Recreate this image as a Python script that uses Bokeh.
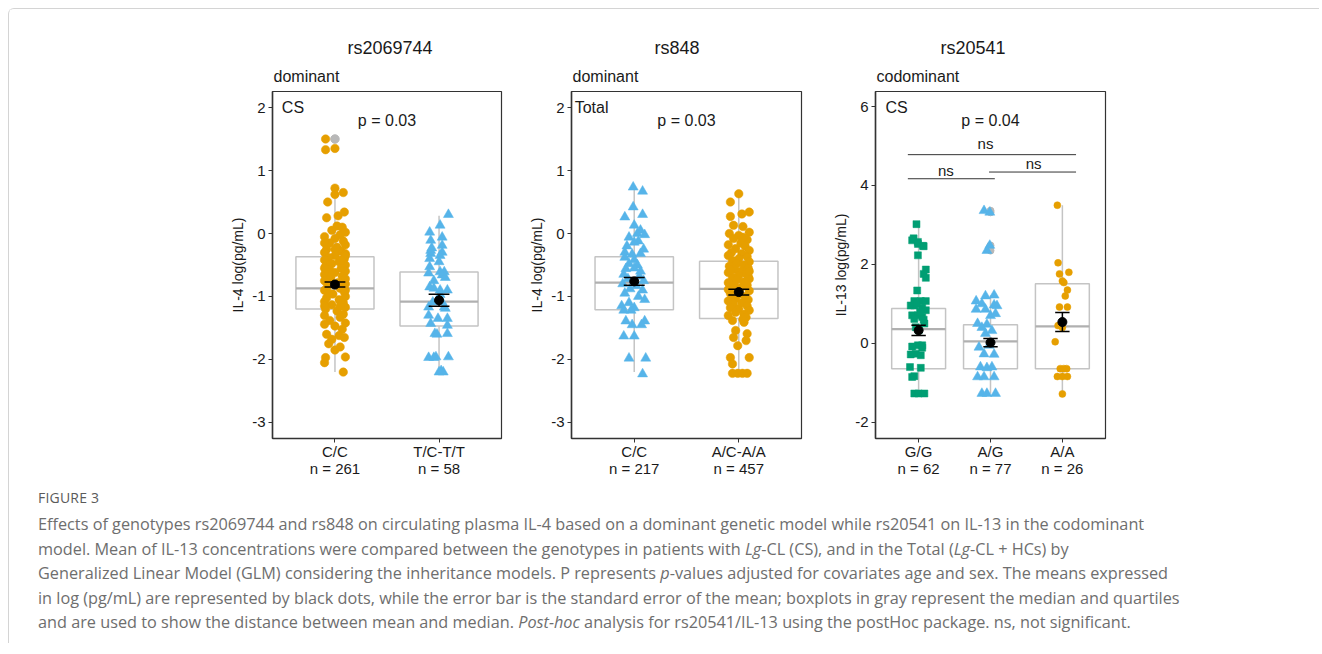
from bokeh.plotting import figure
from bokeh.models import Range1d, FixedTicker, Title, Label, Div
from bokeh.layouts import row, column
from bokeh.embed import file_html
from bokeh.resources import INLINE

ORANGE = "#E69F00"
BLUE = "#56B4E9"
GREEN = "#009E73"
BOXC = "#c4c4c4"
MEDC = "#b0b0b0"
FONT = "Liberation Sans"

# ---------------- data ----------------
# panel 1: rs2069744 (dominant, CS), IL-4
p1_cats = ["C/C\nn = 261", "T/C-T/T\nn = 58"]
p1_q1 = [-1.20, -1.47]
p1_med = [-0.87, -1.08]
p1_q3 = [-0.37, -0.61]
p1_lo = [-2.20, -2.20]
p1_hi = [0.72, 0.28]
p1_mean = [-0.81, -1.06]
p1_se = [0.04, 0.095]
p1_out_x = [1]
p1_out_y = [1.50]
p1_cc = [(-0.09,1.50),(-0.09,1.33),(0.0,1.35),(0.0,0.72),(0.0,0.62),(0.08,0.65),(-0.07,0.50),(0.09,0.34),
         (0.03,0.28),(-0.08,0.25),(0.02,0.12),(0.07,0.10),(-0.03,0.05),(0.10,0.02),(0.05,-0.02),(-0.10,-0.05),
         (0.0,-0.08),(0.08,-0.12),(-0.05,-0.15),(0.10,-0.18),(-0.10,-0.15),(0.02,-0.22),(-0.08,-0.25),(0.06,-0.28),
         (-0.10,-0.30),(0.10,-0.32),(0.0,-0.35),(-0.06,-0.38),(0.09,-0.40),(-0.10,-0.42),(0.04,-0.45),(-0.03,-0.48),
         (0.10,-0.50),(-0.09,-0.52),(0.06,-0.55),(-0.05,-0.58),(0.10,-0.60),(0.0,-0.62),(-0.10,-0.65),(0.07,-0.68),
         (-0.04,-0.70),(0.10,-0.72),(-0.10,-0.75),(0.03,-0.78),(0.10,-0.80),(-0.07,-0.83),(0.05,-0.87),(-0.10,-0.90),
         (0.09,-0.93),(-0.02,-0.96),(0.10,-1.00),(-0.08,-1.02),(0.04,-1.05),(-0.10,-1.08),(0.08,-1.10),(-0.03,-1.13),
         (0.10,-1.17),(-0.09,-1.20),(0.02,-1.23),(0.08,-1.28),(-0.10,-1.30),(0.05,-1.33),(-0.05,-1.38),(0.10,-1.42),
         (-0.10,-1.44),(0.0,-1.47),(0.07,-1.52),(-0.08,-1.60),(0.04,-1.62),(-0.03,-1.68),(0.09,-1.65),(-0.06,-1.75),
         (0.05,-1.80),(0.0,-1.85),(-0.09,-1.97),(0.10,-1.96),(-0.10,-2.05),(0.08,-2.20),(0.10,-0.35),(-0.10,-0.55),
         (0.10,-0.90),(-0.10,-1.15),(0.0,-0.25),(0.05,-1.15),(-0.06,-0.95),(0.06,-0.42)]
p1_tc = [(0.09,0.30),(0.01,0.13),(-0.09,0.02),(0.03,-0.06),(-0.08,-0.11),(0.03,-0.19),(-0.07,-0.23),(0.03,-0.30),
         (-0.08,-0.32),(0.01,-0.35),(-0.09,-0.40),(-0.09,-0.53),(0.01,-0.61),(0.05,-0.61),(0.03,-0.66),(-0.09,-0.85),
         (-0.05,-0.87),(0.01,-0.90),(0.08,-0.90),(-0.06,-1.09),(0.03,-1.09),(0.06,-1.19),(-0.01,-1.35),(0.08,-1.35),
         (-0.08,-1.43),(0.08,-1.46),(-0.04,-1.59),(0.08,-1.59),(-0.03,-1.96),(0.09,-1.96),(0.0,-2.20),(0.04,-2.20),
         (0.02,-2.18),(-0.08,-0.27),(-0.10,-0.63),(0.06,-0.70),(0.01,-0.97),(-0.10,-1.17),(0.05,-1.17),(-0.10,-1.30),
         (-0.02,-1.60),(-0.10,-1.97),(-0.05,-1.97),(0.0,-0.45),(-0.05,-0.75)]

# panel 2: rs848 (dominant, Total), IL-4
p2_cats = ["C/C\nn = 217", "A/C-A/A\nn = 457"]
p2_q1 = [-1.21, -1.35]
p2_med = [-0.78, -0.88]
p2_q3 = [-0.37, -0.44]
p2_lo = [-2.20, -2.20]
p2_hi = [0.73, 0.63]
p2_mean = [-0.76, -0.93]
p2_se = [0.06, 0.045]
p2_cc = [(-0.01,0.735),(0.08,0.67),(-0.01,0.42),(-0.09,0.26),(0.08,0.30),(0.0,0.13),(0.06,0.05),(0.03,0.0),
         (-0.05,-0.06),(0.04,-0.12),(0.0,-0.14),(-0.09,-0.30),(-0.02,-0.33),(0.06,-0.32),(-0.09,-0.38),(0.0,-0.42),
         (-0.05,-0.48),(0.03,-0.50),(-0.08,-0.56),(0.06,-0.60),(-0.10,-0.65),(0.05,-0.68),(-0.06,-0.72),(0.09,-0.75),
         (-0.11,-0.80),(0.02,-0.83),(-0.04,-0.88),(0.08,-0.90),(-0.09,-0.95),(0.04,-1.00),(0.10,-1.05),(-0.05,-1.10),
         (-0.12,-1.15),(0.0,-1.18),(-0.10,-1.22),(-0.03,-1.22),(-0.08,-1.39),(0.10,-1.39),(-0.02,-1.45),(0.07,-1.45),
         (-0.10,-1.63),(0.0,-1.63),(-0.05,-1.98),(0.11,-1.98),(0.08,-2.23),(0.10,-0.02),(-0.07,-0.20),(0.09,-0.25),
         (0.0,-0.55)]
p2_aa = [(0.0,0.63),(-0.08,0.50),(0.10,0.34),(-0.08,0.27),(0.03,0.31),(-0.05,0.13),(0.04,0.11),(0.10,0.02),
         (-0.09,0.0),(0.0,-0.03),(-0.05,-0.08),(0.08,-0.10),(0.02,-0.15),(-0.10,-0.18),(0.06,-0.20),(-0.03,-0.24),
         (0.10,-0.27),(-0.07,-0.30),(0.03,-0.32),(-0.10,-0.35),(0.08,-0.37),(0.0,-0.40),(-0.06,-0.43),(0.10,-0.45),
         (-0.02,-0.48),(0.05,-0.50),(-0.09,-0.52),(0.09,-0.55),(-0.04,-0.57),(0.02,-0.60),(-0.10,-0.62),(0.07,-0.64),
         (0.0,-0.67),(-0.06,-0.70),(0.10,-0.72),(-0.02,-0.74),(0.05,-0.77),(-0.09,-0.79),(0.08,-0.82),(-0.04,-0.84),
         (0.02,-0.86),(-0.10,-0.89),(0.10,-0.91),(0.0,-0.96),(-0.06,-0.98),(0.06,-1.00),(-0.03,-1.03),(0.09,-1.05),
         (-0.10,-1.07),(0.03,-1.10),(-0.05,-1.12),(0.08,-1.15),(-0.08,-1.18),(0.0,-1.20),(0.10,-1.22),(-0.03,-1.25),
         (0.05,-1.28),(-0.10,-1.30),(0.07,-1.33),(-0.06,-1.38),(0.05,-1.41),(-0.03,-1.54),(0.08,-1.59),(-0.05,-1.65),
         (0.07,-1.70),(-0.01,-1.78),(-0.08,-1.97),(0.10,-1.97),(-0.06,-2.07),(-0.06,-2.22),(-0.01,-2.22),(0.035,-2.22),
         (0.08,-2.22),(0.04,-0.06),(-0.08,-0.58),(0.09,-0.68),(-0.08,-0.95),(0.04,-1.36),(-0.10,-0.78),(0.10,-0.60)]

# panel 3: rs20541 (codominant, CS), IL-13
p3_cats = ["G/G\nn = 62", "A/G\nn = 77", "A/A\nn = 26"]
p3_q1 = [-0.64, -0.64, -0.64]
p3_med = [0.36, 0.05, 0.43]
p3_q3 = [0.88, 0.47, 1.51]
p3_lo = [-1.27, -1.27, -1.28]
p3_hi = [3.02, 1.22, 3.50]
p3_mean = [0.33, 0.02, 0.54]
p3_se = [0.13, 0.105, 0.24]
p3_out_x = [2, 2, 2, 2]
p3_out_y = [2.35, 2.48, 3.32, 3.36]
p3_gg = [(-0.03,3.02),(-0.07,2.66),(-0.01,2.57),(0.06,2.47),(-0.09,2.61),(-0.01,2.52),(0.07,2.46),(-0.01,2.23),
         (0.10,1.87),(0.07,1.76),(0.10,1.66),(-0.02,1.34),(-0.06,1.07),(0.03,1.07),(0.10,1.07),(-0.11,0.96),
         (-0.06,0.96),(0.05,0.90),(0.10,0.84),(-0.09,0.71),(-0.01,0.71),(0.05,0.67),(-0.06,0.62),(0.07,0.60),
         (-0.04,0.41),(0.0,0.33),(-0.01,-0.05),(-0.09,-0.08),(0.05,-0.11),(-0.04,-0.26),(0.03,-0.30),(-0.11,-0.28),
         (-0.12,-0.60),(0.03,-0.62),(-0.06,-0.83),(-0.09,-0.85),(-0.06,-1.27),(0.0,-1.27),(0.08,-1.27),(0.02,0.80),
         (-0.03,1.00),(0.08,0.50),(0.05,-0.05)]
p3_ag = [(-0.09,3.36),(-0.01,3.32),(-0.01,2.48),(-0.05,2.35),(0.05,1.22),(-0.07,1.20),(-0.20,1.07),(-0.12,1.00),
         (0.05,0.97),(0.09,0.95),(-0.20,0.86),(-0.07,0.86),(0.0,0.70),(0.07,0.75),(-0.18,0.50),(-0.05,0.48),
         (-0.12,0.40),(0.02,0.32),(-0.07,0.25),(-0.02,-0.05),(-0.16,-0.10),(-0.09,-0.27),(0.05,-0.28),(-0.14,-0.60),
         (-0.05,-0.62),(0.02,-0.60),(-0.09,-0.85),(-0.18,-0.85),(0.05,-0.85),(-0.12,-1.27),(-0.05,-1.27),(0.07,-1.27)]
p3_aa = [(-0.07,3.50),(-0.06,2.04),(-0.04,1.76),(0.09,1.80),(0.0,1.58),(0.02,1.54),(0.07,1.35),(0.04,1.20),
         (0.07,0.92),(-0.04,0.92),(-0.06,0.45),(0.0,0.40),(-0.10,0.04),(-0.03,-0.64),(0.06,-0.64),(0.02,-0.64),
         (-0.07,-0.84),(0.0,-0.84),(0.07,-0.84),(0.0,-1.28)]
# post-hoc brackets (x0, x1, y) and labels
p3_br_x0 = [0.85, 0.85, 1.98]
p3_br_x1 = [3.19, 2.06, 3.19]
p3_br_y = [4.78, 4.17, 4.34]
p3_ns_x = [1.93, 1.38, 2.60]
p3_ns_y = [5.07, 4.38, 4.56]


def make_fig(fw, left, right, yr, yticks, ylabel, title, subtitle, t_off, cats):
    n = len(cats)
    p = figure(frame_width=fw, frame_height=347, min_border_left=left, min_border_right=right,
               min_border_top=82, min_border_bottom=45, x_range=Range1d(0.4, n + 0.6),
               y_range=Range1d(*yr), output_backend="svg", toolbar_location=None, tools="",
               title=None, background_fill_color="white", border_fill_color="white")
    p.xgrid.visible = False
    p.ygrid.visible = False
    p.outline_line_color = "#333333"
    p.outline_line_width = 1.2
    p.xaxis.ticker = FixedTicker(ticks=list(range(1, n + 1)))
    p.xaxis.major_label_overrides = {i + 1: c for i, c in enumerate(cats)}
    p.yaxis.ticker = FixedTicker(ticks=yticks)
    p.yaxis.major_label_overrides = {t: str(t) for t in yticks}
    p.yaxis.axis_label = ylabel
    for ax in (p.xaxis[0], p.yaxis[0]):
        ax.axis_line_color = "#333333"
        ax.axis_line_width = 1.5
        ax.major_tick_line_color = "#333333"
        ax.major_tick_in = 0
        ax.major_tick_out = 4
        ax.minor_tick_line_color = None
        ax.major_label_text_font = FONT
        ax.major_label_text_font_size = "15px"
        ax.major_label_text_color = "#1a1a1a"
        ax.major_label_text_line_height = 1.05
        ax.axis_label_text_font = FONT
        ax.axis_label_text_font_size = "14px"
        ax.axis_label_text_font_style = "normal"
        ax.axis_label_text_color = "#1a1a1a"
    p.yaxis.major_label_standoff = 3
    p.yaxis.axis_label_standoff = 3
    p.xaxis.major_label_standoff = 0
    p.add_layout(Title(text=subtitle, align="left", offset=1, text_font=FONT, text_font_size="16px",
                       text_font_style="normal", text_color="#1a1a1a", standoff=13), "above")
    p.add_layout(Title(text=title, align="left", offset=t_off, text_font=FONT, text_font_size="18px",
                       text_font_style="normal", text_color="#1a1a1a", standoff=4), "above")
    return p


def draw_boxes(p, q1, med, q3, lo, hi, w=0.75):
    xs = list(range(1, len(q1) + 1))
    p.segment(x0=xs, y0=q3, x1=xs, y1=hi, line_color=BOXC, line_width=1.5)
    p.segment(x0=xs, y0=q1, x1=xs, y1=lo, line_color=BOXC, line_width=1.5)
    p.quad(left=[x - w / 2 for x in xs], right=[x + w / 2 for x in xs], bottom=q1, top=q3,
           fill_color="white", fill_alpha=0.0, line_color=BOXC, line_width=1.5)
    p.segment(x0=[x - w / 2 for x in xs], y0=med, x1=[x + w / 2 for x in xs], y1=med,
              line_color=MEDC, line_width=2.2)


def draw_points(p, center, pts, marker, color, size):
    xs = [center + d for d, _ in pts]
    ys = [v for _, v in pts]
    p.scatter(xs, ys, marker=marker, size=size, fill_color=color, line_color=color, line_width=0.5)


def draw_means(p, mean, se, cap=0.2):
    xs = list(range(1, len(mean) + 1))
    lo = [m - s for m, s in zip(mean, se)]
    hi = [m + s for m, s in zip(mean, se)]
    p.segment(x0=xs, y0=lo, x1=xs, y1=hi, line_color="black", line_width=1.5)
    p.segment(x0=[x - cap / 2 for x in xs], y0=lo, x1=[x + cap / 2 for x in xs], y1=lo, line_color="black", line_width=1.5)
    p.segment(x0=[x - cap / 2 for x in xs], y0=hi, x1=[x + cap / 2 for x in xs], y1=hi, line_color="black", line_width=1.5)
    p.scatter(xs, mean, marker="circle", size=9, fill_color="black", line_color="black")


def txt(p, x, y, s, align="left", size="16px"):
    p.add_layout(Label(x=x, y=y, text=s, text_align=align, text_baseline="middle", text_font=FONT,
                       text_font_size=size, text_color="#1a1a1a"))


# ---------- panel 1 ----------
f1 = make_fig(229, 263, 10, (-3.254, 2.254), [-3, -2, -1, 0, 1, 2], "IL-4 log(pg/mL)",
              "rs2069744", "dominant", 75, p1_cats)
draw_boxes(f1, p1_q1, p1_med, p1_q3, p1_lo, p1_hi)
f1.scatter(p1_out_x, p1_out_y, marker="circle", size=8.5, fill_color="#b8b8b8", line_color="#b8b8b8")
draw_points(f1, 1, p1_cc, "circle", ORANGE, 8.5)
draw_points(f1, 2, p1_tc, "triangle", BLUE, 10)
draw_means(f1, p1_mean, p1_se)
txt(f1, 0.49, 2.0, "CS")
txt(f1, 1.5, 1.79, "p = 0.03", align="center")

# ---------- panel 2 ----------
f2 = make_fig(230, 60, 10, (-3.254, 2.254), [-3, -2, -1, 0, 1, 2], "IL-4 log(pg/mL)",
              "rs848", "dominant", 83, p2_cats)
draw_boxes(f2, p2_q1, p2_med, p2_q3, p2_lo, p2_hi)
draw_points(f2, 1, p2_cc, "triangle", BLUE, 10)
draw_points(f2, 2, p2_aa, "circle", ORANGE, 8.5)
draw_means(f2, p2_mean, p2_se)
txt(f2, 0.43, 2.0, "Total")
txt(f2, 1.5, 1.79, "p = 0.03", align="center")

# ---------- panel 3 ----------
f3 = make_fig(230, 64, 205, (-2.41, 6.38), [-2, 0, 2, 4, 6], "IL-13 log(pg/mL)",
              "rs20541", "codominant", 65, p3_cats)
draw_boxes(f3, p3_q1, p3_med, p3_q3, p3_lo, p3_hi)
f3.scatter(p3_out_x, p3_out_y, marker="circle", size=7, fill_color="#b8b8b8", line_color="#b8b8b8")
draw_points(f3, 1, p3_gg, "square", GREEN, 7)
draw_points(f3, 2, p3_ag, "triangle", BLUE, 10)
draw_points(f3, 3, p3_aa, "circle", ORANGE, 7)
draw_means(f3, p3_mean, p3_se)
f3.segment(x0=p3_br_x0, y0=p3_br_y, x1=p3_br_x1, y1=p3_br_y, line_color="#333333", line_width=1)
for x, y in zip(p3_ns_x, p3_ns_y):
    txt(f3, x, y, "ns", align="center", size="15px")
txt(f3, 0.54, 5.97, "CS")
txt(f3, 2.0, 5.65, "p = 0.04", align="center")

caption = (
    '<div style="font-family:\'Open Sans\',sans-serif;color:#6e6e6e;margin-top:-1px;padding-left:24px;">'
    '<div style="font-size:14px;color:#5a5a5a;line-height:22px;letter-spacing:0.2px;">FIGURE 3</div>'
    '<div style="font-size:16.25px;line-height:24.5px;white-space:nowrap;margin-top:3px;">'
    'Effects of genotypes rs2069744 and rs848 on circulating plasma IL-4 based on a dominant genetic model while rs20541 on IL-13 in the codominant<br>'
    'model. Mean of IL-13 concentrations were compared between the genotypes in patients with <i>Lg</i>-CL (CS), and in the Total (<i>Lg</i>-CL + HCs) by<br>'
    'Generalized Linear Model (GLM) considering the inheritance models. P represents <i>p</i>-values adjusted for covariates age and sex. The means expressed<br>'
    'in log (pg/mL) are represented by black dots, while the error bar is the standard error of the mean; boxplots in gray represent the median and quartiles<br>'
    'and are used to show the distance between mean and median. <i>Post-hoc</i> analysis for rs20541/IL-13 using the postHoc package. ns, not significant.'
    '</div></div>'
)
cap = Div(text=caption, width=1300, height=150)

layout = column(row(f1, f2, f3), cap,
                styles={"margin-left": "8px", "margin-top": "8px",
                        "border-left": "1px solid #d4d4d4", "border-top": "1px solid #d4d4d4",
                        "border-top-left-radius": "6px"})

open("out.html", "w").write(file_html(layout, INLINE))
